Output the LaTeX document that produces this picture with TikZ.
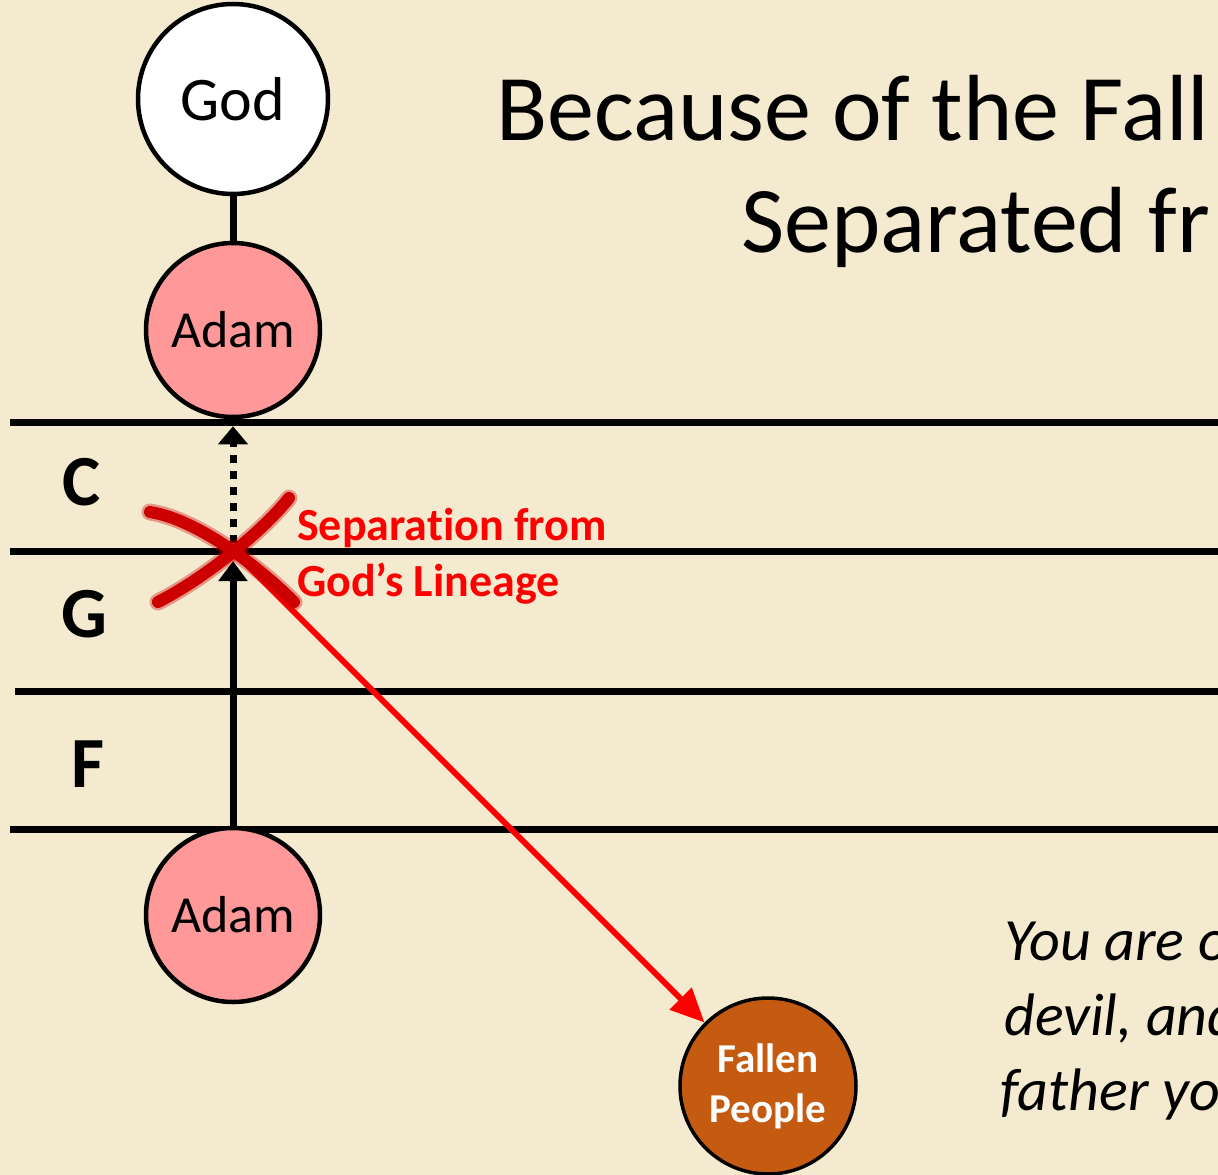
\documentclass[tikz,border=0pt]{standalone}
\usepackage{fontspec}
\setmainfont{Carlito}[Ligatures={NoCommon,NoContextual}]
\usetikzlibrary{arrows.meta}
\definecolor{bg}{RGB}{244,234,208}
\definecolor{adamfill}{RGB}{255,153,153}
\definecolor{fallenfill}{RGB}{197,90,17}
\definecolor{xred}{RGB}{205,0,0}
\definecolor{txtred}{RGB}{255,0,0}
\tikzset{
  person/.style={circle, draw=black, line width=4.5pt, minimum size=174pt, inner sep=0pt},
  rule/.style={line width=7pt, black},
  band/.style={font=\bfseries\fontsize{72}{76}\selectfont, anchor=base, inner sep=0pt},
  titletext/.style={anchor=base west, inner sep=0pt, font=\fontsize{94}{110}\selectfont},
  quote/.style={anchor=base west, inner sep=0pt, font=\itshape\fontsize{60}{74}\selectfont},
  redlabel/.style={anchor=base west, inner sep=0pt, text=txtred, font=\bfseries\fontsize{46}{56}\selectfont},
  xstroke/.style={xred, line width=12pt, line cap=round},
  xfuzz/.style={xred, line width=17pt, line cap=round, opacity=0.35}
}
\begin{document}
\begin{tikzpicture}[x=1pt,y=-1pt]
\useasboundingbox (0,0) rectangle (1218,1175);
\clip (0,0) rectangle (1218,1175);
\fill[bg] (0,0) rectangle (1218,1175);

% band lines
\draw[rule] (10,422) -- (1218,422);
\draw[rule] (10,551) -- (1218,551);
\draw[rule] (15,691) -- (1218,691);
\draw[rule] (10,829) -- (1218,829);

% band labels
\node[band] (lc) at (82,505) {C};
\node[band] (lg) at (84,637) {G};
\node[band] (lf) at (88,787) {F};

% title
\node[titletext] (title1) at (496,140) {Because of the Fall};
\node[titletext] (title2) at (741,252) {Separated fr};

% quote
\node[quote] (q1) at (1004,960) {You are of};
\node[quote] (q2) at (1004,1035) {devil, and};
\node[quote] (q3) at (1000,1110) {father you};

% people
\node[person, fill=white, minimum size=190pt, font=\fontsize{62}{70}\selectfont] (god) at (233,99) {God};
\node[person, fill=adamfill, font=\fontsize{52}{60}\selectfont] (adamtop) at (233,330) {Adam};
\node[person, fill=adamfill, font=\fontsize{52}{60}\selectfont] (adambot) at (233,915) {Adam};
\node[person, fill=fallenfill, minimum size=176pt, line width=3.5pt, text=white, align=center, font=\bfseries\fontsize{41}{50}\selectfont] (fallen) at (768,1086) {Fallen\\People};

\coordinate (cross) at (233,551);

% connectors
\draw[line width=7pt] (god.south) -- (adamtop.north);
\draw[line width=7pt, dash pattern=on 8pt off 8pt, shorten <=8pt, shorten >=7pt,
  -{Triangle[length=18pt,width=29pt]}] (cross) -- (adamtop.south);
\draw[line width=7pt, shorten >=10pt, -{Triangle[length=20pt,width=28pt]}] (adambot.north) -- (cross);
\draw[txtred, line width=6pt, -{Triangle[length=34pt,width=30pt]}] (cross) -- (fallen);

% red X
\draw[xfuzz] (150,512) .. controls (200,520) and (262,570) .. (294,602);
\draw[xfuzz] (289,498) .. controls (262,532) and (205,578) .. (158,602);
\draw[xstroke] (150,512) .. controls (200,520) and (262,570) .. (294,602);
\draw[xstroke] (289,498) .. controls (262,532) and (205,578) .. (158,602);

% red label
\node[redlabel] (sep1) at (297,540) {Separation from};
\node[redlabel] (sep2) at (297,596) {God’s Lineage};
\end{tikzpicture}
\end{document}
